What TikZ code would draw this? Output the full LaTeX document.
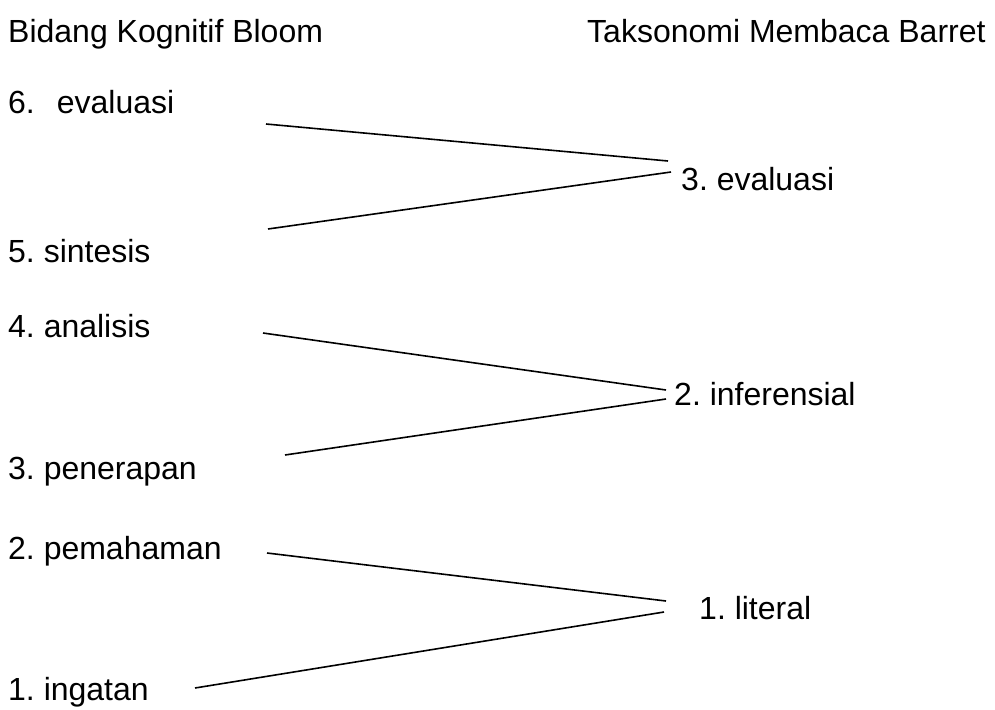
\documentclass[tikz,border=0pt]{standalone}
\usepackage{fontspec}
\setmainfont{Liberation Sans}
\usepackage{tikz}
\frenchspacing
\tikzset{
  level label/.style={
    anchor=base west,
    inner sep=0pt,
    font=\fontsize{32}{38}\selectfont
  },
  link/.style={
    line width=1.6pt,
    color=black
  }
}

\begin{document}
\begin{tikzpicture}[x=1pt, y=-1pt]
  \useasboundingbox (0,0) rectangle (995,709);

  % Headings
  \node[level label] (bloom) at (8,42) {Bidang Kognitif Bloom};
  \node[level label] (barret) at (587,42) {Taksonomi Membaca Barret};

  % Bloom levels
  \node[level label] (evaluasi6) at (8,113) {6.\hspace{22pt}evaluasi};
  \node[level label] (sintesis) at (8,262) {5. sintesis};
  \node[level label] (analisis) at (8,337) {4. analisis};
  \node[level label] (penerapan) at (8,479) {3. penerapan};
  \node[level label] (pemahaman) at (8,559) {2. pemahaman};
  \node[level label] (ingatan) at (8,700) {1. ingatan};

  % Barret levels
  \node[level label] (evaluasi3) at (681,190) {3. evaluasi};
  \node[level label] (inferensial) at (674,405) {2. inferensial};
  \node[level label] (literal) at (699,619) {1. literal};

  % Line ends
  \coordinate (evaluasi6 out) at (266,124);
  \coordinate (sintesis out) at (268,229);
  \coordinate (analisis out) at (263,333);
  \coordinate (penerapan out) at (285,455);
  \coordinate (pemahaman out) at (267,553);
  \coordinate (ingatan out) at (195,688);
  \coordinate (evaluasi3 top) at (668,161);
  \coordinate (evaluasi3 bot) at (671,172);
  \coordinate (inferensial top) at (666,390);
  \coordinate (inferensial bot) at (666,399);
  \coordinate (literal top) at (666,601);
  \coordinate (literal bot) at (664,612);

  % Links
  \draw[link] (evaluasi6 out) -- (evaluasi3 top);
  \draw[link] (sintesis out) -- (evaluasi3 bot);
  \draw[link] (analisis out) -- (inferensial top);
  \draw[link] (penerapan out) -- (inferensial bot);
  \draw[link] (pemahaman out) -- (literal top);
  \draw[link] (ingatan out) -- (literal bot);
\end{tikzpicture}
\end{document}
